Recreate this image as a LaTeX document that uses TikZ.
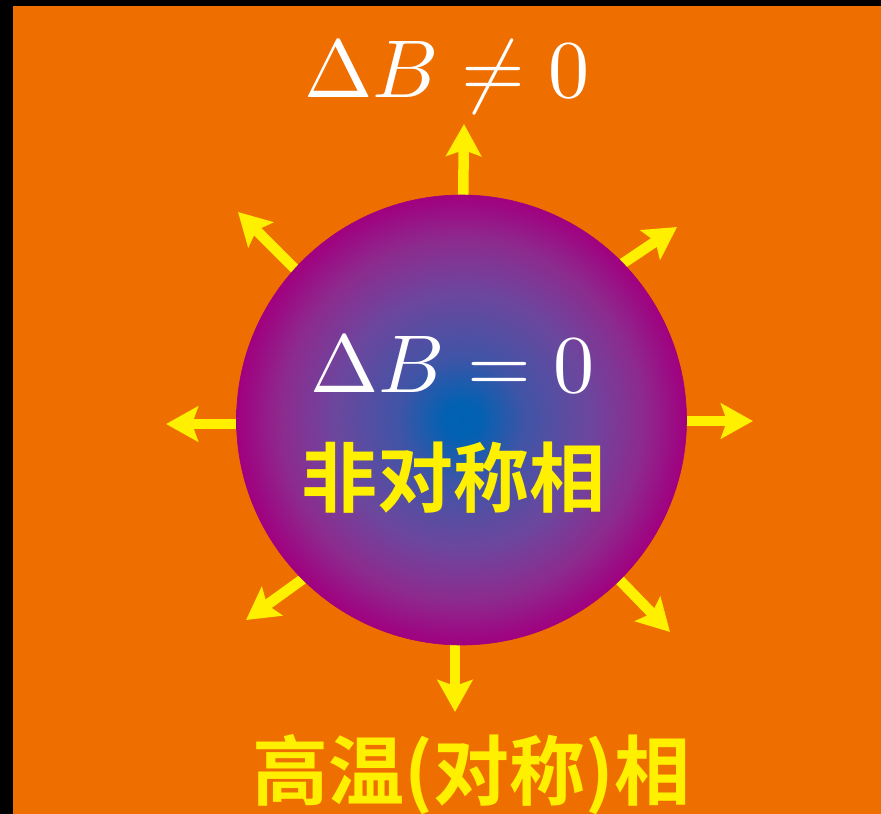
\documentclass[tikz,border=0pt]{standalone}
\usepackage{fontspec}
\newfontfamily\cjk{Noto Sans CJK SC Bold}
\usetikzlibrary{arrows.meta}
\definecolor{bgorange}{RGB}{238,110,0}
\definecolor{arrowyellow}{RGB}{255,240,0}
\definecolor{ringmag}{RGB}{160,0,128}
\pgfdeclareradialshading{ballshade}{\pgfpoint{0bp}{0bp}}{%
  rgb(0bp)=(0,0.38,0.70);
  rgb(2bp)=(0.01,0.38,0.70);
  rgb(7bp)=(0.25,0.33,0.65);
  rgb(14bp)=(0.42,0.28,0.62);
  rgb(20bp)=(0.55,0.17,0.56);
  rgb(25bp)=(0.63,0,0.50);
  rgb(50bp)=(0.63,0,0.50)}
\begin{document}
\begin{tikzpicture}[x=1pt,y=-1pt,
  arr/.style={draw=arrowyellow, line width=10.5pt,
    -{Stealth[length=32pt,width=35pt,inset=6pt]}},
  mathlbl/.style={text=white, anchor=base, inner sep=0pt,
    font=\fontsize{10}{12}\selectfont},
  cjklbl/.style={text=arrowyellow, inner sep=0pt,
    font=\cjk\fontsize{76}{80}\selectfont}]
\useasboundingbox (0,0) rectangle (881,814);
\fill[black] (0,0) rectangle (881,814);
\fill[bgorange] (13,6) rectangle (881,814);
% arrow tails (hidden under the ball) and tips
\coordinate (nT) at (463,215);   \coordinate (n) at (464,124);
\coordinate (sT) at (455,625);   \coordinate (s) at (455,712);
\coordinate (wT) at (256,424);   \coordinate (w) at (166,424);
\coordinate (eT) at (666,421);   \coordinate (e) at (753,421);
\coordinate (nwT) at (304,278);  \coordinate (nw) at (238,212);
\coordinate (neT) at (610,272);  \coordinate (ne) at (677,227);
\coordinate (swT) at (314,571);  \coordinate (sw) at (246,620);
\coordinate (seT) at (609,569);  \coordinate (se) at (670,632);
\foreach \d in {n,s,w,e,nw,ne,sw,se}{\draw[arr] (\d T) -- (\d);}
\node[circle, minimum size=450pt, inner sep=0pt, shading=ballshade,
      draw=ringmag, line width=0.6pt] (ball) at (461.5,420) {};
\node[mathlbl, scale=8.2] (outer) at (447,97) {$\Delta B\neq 0$};
\node[mathlbl, scale=8.2] (inner) at (452.5,392) {$\Delta B = 0$};
\node[cjklbl] (broken) at (453.5,478) {非对称相};
\node[cjklbl] (sym) at (471.5,775) {高温(对称)相};
\end{tikzpicture}
\end{document}
